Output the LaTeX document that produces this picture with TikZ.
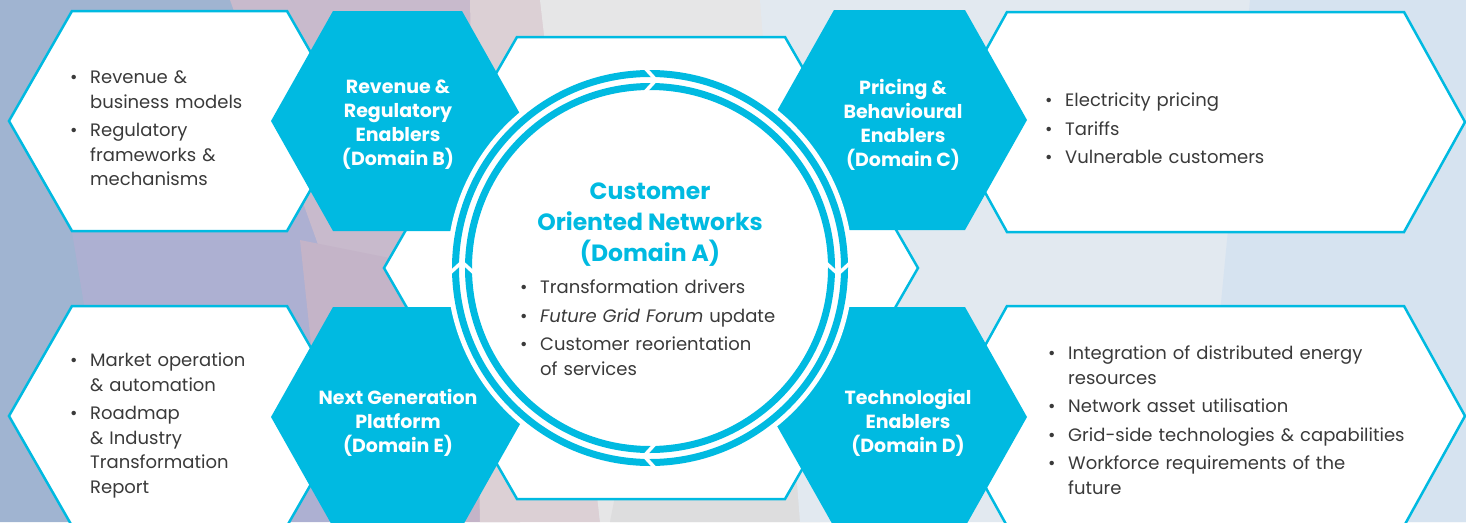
\documentclass[tikz,border=0pt]{standalone}
\usepackage{fontspec}
\setmainfont{Poppins}
\usepackage{enumitem}
\usetikzlibrary{positioning}
\definecolor{domcyan}{HTML}{00BAE1}
\definecolor{bodygrey}{HTML}{3A3A3A}
\newcommand{\hexshape}[5]{({#1-#3},{#2-#4}) -- ({#1+#3},{#2-#4}) -- ({#1+#3+#5},#2) -- ({#1+#3},{#2+#4}) -- ({#1-#3},{#2+#4}) -- ({#1-#3-#5},#2) -- cycle}
\newcommand{\domlist}[1]{\begin{itemize}[nosep,itemsep=4pt,leftmargin=20pt,labelwidth=10pt,labelsep=10pt,align=left,label=\textbullet]#1\end{itemize}}

\begin{document}
\begin{tikzpicture}
  [x=1pt,y=-1pt]
  \tikzstyle{white_hex} = [fill=white, draw=domcyan, line width=2.5pt]
  \tikzstyle{blue_hex} = [fill=domcyan]
  \tikzstyle{ring_style} = [draw=domcyan, line width=7pt]
  \tikzstyle{head_text} = [text=white, font=\bfseries\fontsize{19}{24}\selectfont, align=center, inner sep=0]
  \tikzstyle{list_text} = [text=bodygrey, font=\fontsize{18}{24.5}\selectfont, anchor=north west, inner sep=0]
  \useasboundingbox (0,0) rectangle (1466,522);
  \clip (0,0) rectangle (1466,522);
  % background
  \fill[fill=white!60!gray!40!blue!20] (0,0) rectangle (1466,522);
  \fill[fill={rgb,255:red,160;green,180;blue,209}] (0,0) -- (260,0) -- (220,522) -- (0,522) -- cycle;
  \fill[fill={rgb,255:red,173;green,176;blue,210}] (70,220) -- (360,190) -- (430,522) -- (120,522) -- cycle;
  \fill[fill={rgb,255:red,200;green,186;blue,204}] (230,0) -- (560,0) -- (480,300) -- (320,250) -- cycle;
  \fill[fill={rgb,255:red,196;green,180;blue,200}] (300,240) -- (500,280) -- (520,522) -- (330,522) -- cycle;
  \fill[fill={rgb,255:red,220;green,208;blue,213}] (470,0) -- (560,0) -- (600,522) -- (480,522) -- cycle;
  \fill[fill={rgb,255:red,230;green,230;blue,231}] (540,0) -- (800,0) -- (820,522) -- (600,522) -- cycle;
  \fill[fill={rgb,255:red,221;green,221;blue,222}] (620,470) -- (800,470) -- (830,522) -- (610,522) -- cycle;
  \fill[fill={rgb,255:red,226;green,233;blue,240}] (760,0) -- (1466,0) -- (1466,522) -- (800,522) -- cycle;
  \fill[fill={rgb,255:red,214;green,227;blue,240}] (1250,0) -- (1466,0) -- (1466,522) -- (1200,522) -- cycle;
  % detail hexagons
  \draw[white_hex] \hexshape{179.5}{121}{107.5}{110}{63};
  \draw[white_hex] \hexshape{179.5}{416}{107.5}{110}{63};
  \draw[white_hex] \hexshape{1205.5}{122}{198.5}{110}{61};
  \draw[white_hex] \hexshape{1205.5}{416}{198.5}{110}{61};
  \draw[white_hex] \hexshape{651}{268}{134}{231}{133};
  % domain hexagons
  \fill[blue_hex] \hexshape{397.5}{121}{64.5}{110}{62};
  \fill[blue_hex] \hexshape{899.5}{120}{65.5}{110}{62};
  \fill[blue_hex] \hexshape{899.5}{417}{65.5}{110}{62};
  \fill[blue_hex] \hexshape{397.5}{417}{64.5}{110}{62};
  % centre circle
  \fill[white] (650,268) circle[radius=203];
  \draw[ring_style] (650,268) circle[radius=194.5];
  \draw[ring_style] (650,268) circle[radius=181.5];
  \foreach \a in {0,90,180,270}
    \draw[white, line width=3.5pt, miter limit=4, rotate around={-\a:(650,268)}]
      (645,68) -- (656,80) -- (645,92);
  % labels
  \node[head_text] (hB) at (398,125) {Revenue \&\\Regulatory\\Enablers\\(Domain B)};
  \node[head_text] (hC) at (903,125) {Pricing \&\\Behavioural\\Enablers\\(Domain C)};
  \node[head_text] (hD) at (908,423) {Technologial\\Enablers\\(Domain D)};
  \node[head_text] (hE) at (398,423) {Next Generation\\Platform\\(Domain E)};
  \node[text=domcyan, font=\bfseries\fontsize{23.5}{31}\selectfont, align=center, inner sep=0] (hA) at (650,225) {Customer\\Oriented Networks\\(Domain A)};
  \node[list_text, text width=300pt] (lA) at (520,269) {\domlist{\item Transformation drivers \item \textit{Future Grid Forum} update \item Customer reorientation\\of services}};
  \node[list_text, text width=220pt] (lB) at (70,59) {\domlist{\item Revenue \&\\business models \item Regulatory\\frameworks \&\\mechanisms}};
  \node[list_text, text width=340pt] (lC) at (1045,82) {\domlist{\item Electricity pricing \item Tariffs \item Vulnerable customers}};
  \node[list_text, text width=380pt] (lD) at (1048,335) {\domlist{\item Integration of distributed energy\\resources \item Network asset utilisation \item Grid-side technologies \& capabilities \item Workforce requirements of the\\future}};
  \node[list_text, text width=220pt] (lE) at (70,342) {\domlist{\item Market operation\\\& automation \item Roadmap\\\& Industry\\Transformation\\Report}};
\end{tikzpicture}
\end{document}
